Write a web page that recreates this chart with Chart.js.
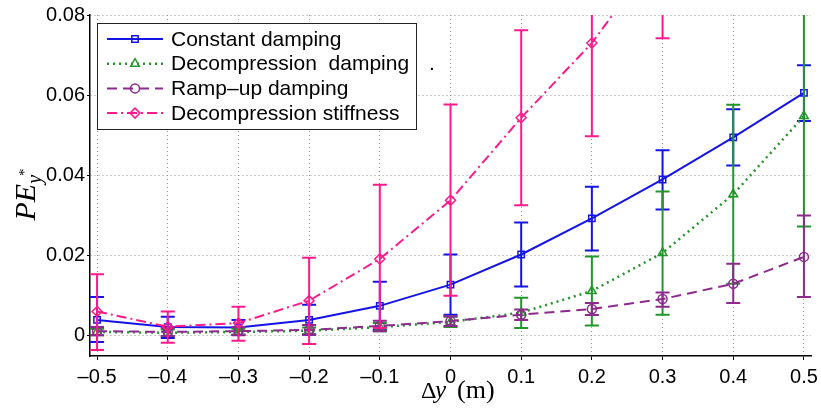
<!DOCTYPE html>
<html>
<head>
<meta charset="utf-8">
<script src="https://cdn.jsdelivr.net/npm/chart.js@4/dist/chart.umd.min.js"></script>
<style>
  body { margin: 0; background: #fff; }
  #wrap { width: 821px; height: 411px; }
</style>
</head>
<body>
<div id="wrap"><canvas id="chart" width="821" height="411"></canvas></div>
<script>
// displacement (m)
const xs = [-0.5, -0.4, -0.3, -0.2, -0.1, 0, 0.1, 0.2, 0.3, 0.4, 0.5];
const xTicks = [-0.5, -0.4, -0.3, -0.2, -0.1, 0, 0.1, 0.2, 0.3, 0.4, 0.5];
const yTicks = [0, 0.02, 0.04, 0.06, 0.08];

const seriesNames = ["Constant damping", "Decompression  damping", "Ramp\u2013up damping", "Decompression stiffness"];

// Constant damping
const constDamp = [0.004, 0.0022, 0.0021, 0.004, 0.0075, 0.0128, 0.0203, 0.0293, 0.039, 0.0495, 0.0606];
const constLow  = [-0.0015, -0.0005, 0.0003, 0.0003, 0.0015, 0.0053, 0.0123, 0.0213, 0.0315, 0.0425, 0.0536];
const constHigh = [0.0097, 0.0048, 0.004, 0.0078, 0.0135, 0.0203, 0.0283, 0.0372, 0.0463, 0.0565, 0.0675];

// Decompression damping
const decDamp = [0.001, 0.0008, 0.001, 0.0013, 0.0022, 0.0035, 0.0058, 0.0112, 0.0207, 0.0353, 0.0548];
const decLow  = [0.0002, 0.0, 0.0003, 0.0005, 0.0012, 0.0022, 0.002, 0.0026, 0.0053, 0.013, 0.0273];
const decHigh = [0.0018, 0.0016, 0.0018, 0.0021, 0.0032, 0.0048, 0.0095, 0.0198, 0.036, 0.0576, 0.082];

// Ramp-up damping
const rampDamp = [0.0012, 0.001, 0.0012, 0.0015, 0.0025, 0.0037, 0.0053, 0.0067, 0.0092, 0.013, 0.0197];
const rampLow  = [0.0002, 0.0, 0.0002, 0.0003, 0.0012, 0.0025, 0.004, 0.0052, 0.0073, 0.0082, 0.0097];
const rampHigh = [0.0022, 0.002, 0.0022, 0.0027, 0.0038, 0.0049, 0.0066, 0.0082, 0.0108, 0.018, 0.03];

// Decompression stiffness
const decStiff = [0.0061, 0.0023, 0.0032, 0.0088, 0.0192, 0.0338, 0.0544, 0.073, 0.097, 0.128, 0.165];
const stiffLow  = [-0.0035, -0.0017, -0.0012, -0.002, 0.002, 0.01, 0.0326, 0.0498, 0.0742, 0.1, 0.13];
const stiffHigh = [0.0154, 0.0061, 0.0073, 0.0195, 0.0377, 0.0577, 0.0762, 0.096, 0.12, 0.156, 0.2];

const toPts = (ys) => xs.map((x, i) => ({ x, y: ys[i] }));

function makeSet(label, ys, lo, hi, color, dash, width, pointStyle, radius, order) {
  return {
    label,
    data: toPts(ys),
    errLow: lo,
    errHigh: hi,
    borderColor: color,
    borderDash: dash,
    borderWidth: width,
    pointStyle,
    pointRadius: radius,
    pointBorderWidth: 1.5,
    pointBorderColor: color,
    pointBackgroundColor: "rgba(0,0,0,0)",
    tension: 0,
    fill: false,
    order
  };
}

const datasets = [
  makeSet(seriesNames[0], constDamp, constLow, constHigh, "#1414e6", [], 2, "rect", 4.5, 4),
  makeSet(seriesNames[1], decDamp, decLow, decHigh, "#22962a", [2, 4], 2.5, "triangle", 5, 3),
  makeSet(seriesNames[2], rampDamp, rampLow, rampHigh, "#8e2a8e", [10, 6], 2, "circle", 4.5, 2),
  makeSet(seriesNames[3], decStiff, stiffLow, stiffHigh, "#ff1a8c", [10, 4, 2, 4], 2, "rectRot", 5, 1)
];

// vertical error bars with caps, drawn right after each series
const errorBars = {
  id: "errorBars",
  afterDatasetDraw(chart, args) {
    const ds = chart.data.datasets[args.index];
    const xScale = chart.scales.x, yScale = chart.scales.y;
    const area = chart.chartArea;
    const ctx = chart.ctx;
    ctx.save();
    ctx.beginPath();
    ctx.rect(area.left, area.top, area.right - area.left, area.bottom - area.top);
    ctx.clip();
    ctx.strokeStyle = ds.borderColor;
    ctx.lineWidth = 2;
    ctx.setLineDash([]);
    const cap = 7;
    ds.data.forEach((p, i) => {
      const px = xScale.getPixelForValue(p.x);
      const y1 = yScale.getPixelForValue(ds.errLow[i]);
      const y2 = yScale.getPixelForValue(ds.errHigh[i]);
      ctx.beginPath();
      ctx.moveTo(px, y1); ctx.lineTo(px, y2);
      ctx.moveTo(px - cap, y1); ctx.lineTo(px + cap, y1);
      ctx.moveTo(px - cap, y2); ctx.lineTo(px + cap, y2);
      ctx.stroke();
    });
    ctx.restore();
  }
};

// legend box inside the axes, axis titles
const decorations = {
  id: "decorations",
  afterDraw(chart) {
    const ctx = chart.ctx;
    ctx.save();

    // legend
    const bx = 97, by = 23, bw = 319, bh = 106;
    ctx.fillStyle = "#fff";
    ctx.fillRect(bx, by, bw, bh);
    ctx.strokeStyle = "#222";
    ctx.lineWidth = 1;
    ctx.setLineDash([]);
    ctx.strokeRect(bx + 0.5, by + 0.5, bw, bh);
    ctx.font = '21px "Liberation Sans", Arial, sans-serif';
    ctx.textBaseline = "middle";
    chart.data.datasets.forEach((ds, i) => {
      const ry = by + 16 + i * 24.7;
      ctx.strokeStyle = ds.borderColor;
      ctx.lineWidth = ds.borderWidth;
      ctx.setLineDash(ds.borderDash);
      ctx.beginPath();
      ctx.moveTo(bx + 10, ry); ctx.lineTo(bx + 66, ry);
      ctx.stroke();
      ctx.setLineDash([]);
      ctx.fillStyle = "rgba(0,0,0,0)";
      ctx.lineWidth = 1.5;
      Chart.helpers.drawPoint(ctx, { pointStyle: ds.pointStyle, radius: ds.pointRadius, borderWidth: 1.5, rotation: 0 }, bx + 38, ry);
      ctx.fillStyle = "#000";
      ctx.fillText(ds.label, bx + 74, ry + 1);
    });
    ctx.fillText(".", 429, 64);

    // y title: PE_{y*}
    ctx.save();
    ctx.translate(26, 194);
    ctx.rotate(-Math.PI / 2);
    ctx.fillStyle = "#000";
    ctx.textBaseline = "alphabetic";
    const fBig = 'italic 30px "Liberation Serif", "DejaVu Serif", serif';
    const fSub = 'italic 20px "Liberation Serif", "DejaVu Serif", serif';
    const fSup = '15px "Liberation Serif", "DejaVu Serif", serif';
    ctx.font = fBig; const wPE = ctx.measureText("PE").width;
    ctx.font = fSub; const wy = ctx.measureText("y").width;
    ctx.font = fSup; const ws = ctx.measureText("*").width;
    const x0 = -(wPE + wy + ws) / 2;
    ctx.font = fBig; ctx.fillText("PE", x0, 9);
    ctx.font = fSub; ctx.fillText("y", x0 + wPE, 15);
    ctx.font = fSup; ctx.fillText("*", x0 + wPE + wy - 1, 3);
    ctx.restore();

    // x title: Δy (m)
    ctx.fillStyle = "#000";
    ctx.textBaseline = "alphabetic";
    ctx.font = '24px "Liberation Serif", "DejaVu Serif", serif';
    ctx.fillText("\u0394", 421, 398);
    ctx.font = 'italic 25px "Liberation Serif", "DejaVu Serif", serif';
    ctx.fillText("y", 435, 398);
    ctx.font = '26px "Liberation Serif", "DejaVu Serif", serif';
    ctx.fillText("(m)", 457, 398);

    ctx.restore();
  }
};

const fmtX = (v) => v === 0 ? "0" : (v < 0 ? "\u2013" : "") + Math.abs(v).toFixed(1);
const fmtY = (v) => v === 0 ? "0" : v.toFixed(2);

const tickFont = { family: '"Liberation Sans", Arial, sans-serif', size: 20 };

new Chart(document.getElementById("chart"), {
  type: "line",
  data: { datasets },
  plugins: [errorBars, decorations],
  options: {
    responsive: false,
    animation: false,
    devicePixelRatio: 1,
    layout: { padding: { top: 15, right: 10, bottom: 0, left: 0 } },
    plugins: { legend: { display: false }, tooltip: { enabled: false } },
    scales: {
      x: {
        type: "linear",
        min: -0.51,
        max: 0.51,
        afterBuildTicks: (scale) => { scale.ticks = xTicks.map((v) => ({ value: v })); },
        afterFit: (scale) => { scale.height = 55; scale.paddingLeft = 0; scale.paddingRight = 0; },
        ticks: { callback: fmtX, font: tickFont, color: "#000", padding: 5, maxRotation: 0, autoSkip: false },
        grid: { color: "#999", lineWidth: 1, drawTicks: true, tickLength: 4, tickColor: "#000", tickBorderDash: [] },
        border: { display: true, color: "#000", width: 1.5, dash: [1, 3] }
      },
      y: {
        type: "linear",
        min: -0.005,
        max: 0.08,
        afterBuildTicks: (scale) => { scale.ticks = yTicks.map((v) => ({ value: v })); },
        afterFit: (scale) => { scale.width = 90; scale.paddingTop = 0; scale.paddingBottom = 0; },
        ticks: { callback: fmtY, font: tickFont, color: "#000", padding: 2 },
        grid: { color: "#999", lineWidth: 1, drawTicks: true, tickLength: 3, tickColor: "#000", tickBorderDash: [] },
        border: { display: true, color: "#000", width: 1.5, dash: [1, 3] }
      }
    }
  }
});
</script>
</body>
</html>
